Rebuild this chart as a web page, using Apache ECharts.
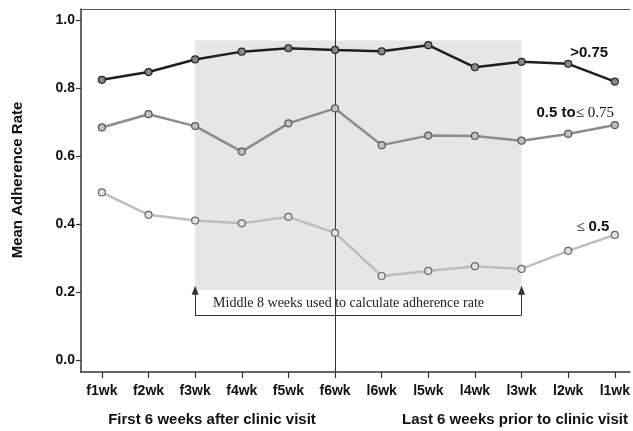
<!DOCTYPE html>
<html>
<head>
<meta charset="utf-8">
<script src="https://cdn.jsdelivr.net/npm/echarts@6/dist/echarts.min.js"></script>
<style>
  html, body { margin: 0; padding: 0; background: #fff; }
  #chart { width: 633px; height: 431px; }
</style>
</head>
<body>
<div id="chart"></div>
<script>
// weeks on the x axis
var weeks = ['f1wk', 'f2wk', 'f3wk', 'f4wk', 'f5wk', 'f6wk', 'l6wk', 'l5wk', 'l4wk', 'l3wk', 'l2wk', 'l1wk']
var yTicks = [0, 0.2, 0.4, 0.6, 0.8, 1.0]

// mean adherence per group
var highGroup = [0.824, 0.847, 0.884, 0.907, 0.917, 0.912, 0.908, 0.926, 0.861, 0.877, 0.871, 0.819]
var midGroup = [0.684, 0.723, 0.688, 0.613, 0.696, 0.740, 0.632, 0.660, 0.659, 0.645, 0.665, 0.691]
var lowGroup = [0.493, 0.427, 0.410, 0.402, 0.421, 0.374, 0.247, 0.262, 0.276, 0.268, 0.321, 0.368]

var font = 'Liberation Sans, Arial, sans-serif'
var serif = 'Liberation Serif, Times New Roman, serif'

function pairs(arr) {
    return arr.map(function (v, i) { return [i, v] })
}

function lineSeries(name, data, lineColor, fill, border) {
    return {
        name: name,
        type: 'line',
        data: pairs(data),
        symbol: 'circle',
        symbolSize: 7,
        z: 5,
        lineStyle: { color: lineColor, width: 2.5 },
        itemStyle: { color: fill, borderColor: border, borderWidth: 1.2 }
    }
}

var high = lineSeries('>0.75', highGroup, '#1e1e1e', '#888', '#222')
high.markPoint = {
    symbol: 'circle', symbolSize: 0,
    data: [{ coord: [10.45, 0.903] }],
    label: { show: true, position: 'inside', formatter: '>0.75', color: '#111', fontFamily: font, fontWeight: 'bold', fontSize: 15 }
}

var mid = lineSeries('0.5 to ≤ 0.75', midGroup, '#8c8c8c', '#c0c0c0', '#555')
mid.markPoint = {
    symbol: 'circle', symbolSize: 0,
    data: [{ coord: [10.15, 0.726] }],
    label: {
        show: true, position: 'inside',
        formatter: '{a|0.5 to}{b|≤ 0.75}',
        rich: {
            a: { color: '#111', fontFamily: font, fontWeight: 'bold', fontSize: 15 },
            b: { color: '#111', fontFamily: serif, fontSize: 15 }
        }
    }
}

var low = lineSeries('≤ 0.5', lowGroup, '#bdbdbd', '#e2e2e2', '#666')
low.markPoint = {
    symbol: 'circle', symbolSize: 0,
    data: [{ coord: [10.53, 0.391] }],
    label: {
        show: true, position: 'inside',
        formatter: '{b|≤ }{a|0.5}',
        rich: {
            a: { color: '#111', fontFamily: font, fontWeight: 'bold', fontSize: 15 },
            b: { color: '#111', fontFamily: serif, fontSize: 15 }
        }
    }
}

// shaded middle 8 weeks, divider line and bracket
var helper = {
    type: 'line',
    data: [],
    silent: true,
    markArea: {
        silent: true,
        itemStyle: { color: '#e6e6e6' },
        data: [[{ coord: [2, 0.205] }, { coord: [9, 0.94] }]]
    },
    markLine: {
        silent: true,
        symbol: 'none',
        label: { show: false },
        lineStyle: { color: '#333', width: 1, type: 'solid' },
        data: [
            [{ coord: [5, -0.0353] }, { coord: [5, 1.0324] }],
            [{ coord: [2, 0.132] }, { coord: [9, 0.132] }],
            [{ coord: [2, 0.132], symbol: 'none' }, { coord: [2, 0.205], symbol: 'triangle', symbolSize: [7, 9] }],
            [{ coord: [9, 0.132], symbol: 'none' }, { coord: [9, 0.205], symbol: 'triangle', symbolSize: [7, 9] }]
        ]
    },
    markPoint: {
        symbol: 'circle', symbolSize: 0,
        data: [{ coord: [5.29, 0.167] }],
        label: {
            show: true, position: 'inside',
            formatter: 'Middle 8 weeks used to calculate adherence rate',
            color: '#222', fontFamily: serif, fontSize: 14
        }
    }
}

var option = {
    animation: false,
    backgroundColor: '#fff',
    grid: { left: 81, right: 0, top: 9, bottom: 59, containLabel: false },
    xAxis: [{
        type: 'value',
        min: -0.448,
        max: 11.32,
        splitLine: { show: false },
        axisLine: { show: true, onZero: false, lineStyle: { color: '#333', width: 1.5 } },
        axisTick: { show: true, customValues: weeks.map(function (w, i) { return i }), length: 6, lineStyle: { color: '#333', width: 1.2 } },
        axisLabel: {
            customValues: weeks.map(function (w, i) { return i }),
            formatter: function (v) { return weeks[Math.round(v)] },
            margin: 12,
            color: '#111', fontFamily: font, fontWeight: 'bold', fontSize: 14
        }
    }, {
        type: 'value',
        position: 'top',
        min: -0.448,
        max: 11.32,
        splitLine: { show: false },
        axisLine: { show: true, onZero: false, lineStyle: { color: '#555', width: 1 } },
        axisTick: { show: false },
        axisLabel: { show: false }
    }],
    yAxis: {
        type: 'value',
        min: -0.0353,
        max: 1.0324,
        splitLine: { show: false },
        axisLine: { show: true, onZero: false, lineStyle: { color: '#333', width: 1.5 } },
        axisTick: { show: true, customValues: yTicks, length: 5, lineStyle: { color: '#333', width: 1.2 } },
        axisLabel: {
            customValues: yTicks,
            formatter: function (v) { return v.toFixed(1) },
            margin: 6,
            color: '#111', fontFamily: font, fontWeight: 'bold', fontSize: 14
        }
    },
    graphic: [{
        type: 'text',
        x: 18, y: 180,
        rotation: Math.PI / 2,
        style: { text: 'Mean Adherence Rate', fill: '#111', font: 'bold 15px ' + font, align: 'center', verticalAlign: 'middle' }
    }, {
        type: 'text',
        x: 212, y: 420,
        style: { text: 'First 6 weeks after clinic visit', fill: '#111', font: 'bold 15px ' + font, align: 'center', verticalAlign: 'middle' }
    }, {
        type: 'text',
        x: 515, y: 420,
        style: { text: 'Last 6 weeks prior to clinic visit', fill: '#111', font: 'bold 15px ' + font, align: 'center', verticalAlign: 'middle' }
    }],
    series: [helper, low, mid, high]
}

var chart = echarts.init(document.getElementById('chart'))
chart.setOption(option)
</script>
</body>
</html>
